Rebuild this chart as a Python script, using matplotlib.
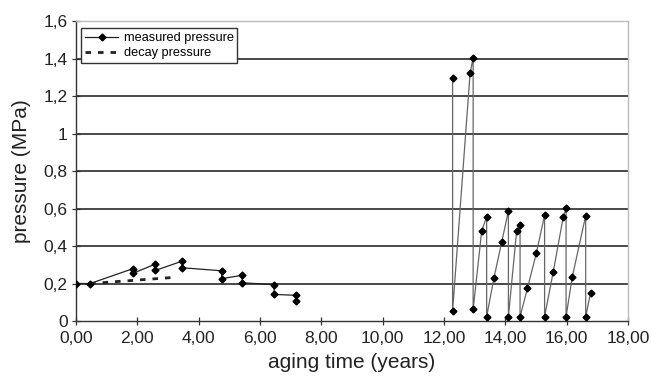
import matplotlib
matplotlib.use("Agg")
import matplotlib.pyplot as plt
import numpy as np

plt.rcParams['font.family'] = ['Liberation Sans', 'DejaVu Sans']

# measured pressure, early period
early_t = [0.00, 0.46, 1.85, 1.85, 2.59, 2.59, 3.47, 3.47, 4.75, 4.75, 5.42, 5.42, 6.46, 6.46, 7.18, 7.18]
early_p = [0.200, 0.200, 0.279, 0.254, 0.304, 0.270, 0.320, 0.284, 0.268, 0.226, 0.244, 0.204, 0.194, 0.142, 0.137, 0.108]

# measured pressure, late period
late_t = [12.28, 12.28, 12.85, 12.95, 12.95, 13.23, 13.39, 13.39, 13.63, 13.88, 14.10, 14.10,
          14.37, 14.48, 14.48, 14.72, 15.01, 15.28, 15.28, 15.56, 15.89, 15.98, 15.98,
          16.18, 16.62, 16.62, 16.78]
late_p = [1.294, 0.053, 1.321, 1.404, 0.062, 0.482, 0.556, 0.023, 0.231, 0.420, 0.587, 0.023,
          0.482, 0.512, 0.023, 0.174, 0.361, 0.565, 0.023, 0.261, 0.556, 0.601, 0.023,
          0.233, 0.562, 0.023, 0.151]

# decay pressure
decay_t = [0.46, 3.30]
decay_p = [0.200, 0.234]

x_ticks = [0, 2, 4, 6, 8, 10, 12, 14, 16, 18]
x_labels = ["0,00", "2,00", "4,00", "6,00", "8,00", "10,00", "12,00", "14,00", "16,00", "18,00"]
y_ticks = [0, 0.2, 0.4, 0.6, 0.8, 1.0, 1.2, 1.4, 1.6]
y_labels = ["0", "0,2", "0,4", "0,6", "0,8", "1", "1,2", "1,4", "1,6"]

fig = plt.figure(figsize=(6.52, 3.77), dpi=100)
ax = fig.add_axes([0.1166, 0.1485, 0.8466, 0.7955])

for y in y_ticks[1:-1]:
    ax.axhline(y, color='#3a3a3a', lw=1.3, zorder=1)

ax.plot(early_t, early_p, color='#222222', lw=0.9, marker='D', ms=3.5,
        mfc='black', mec='black', zorder=3, label='measured pressure')
ax.plot(late_t, late_p, color='#666666', lw=0.9, marker='D', ms=3.5,
        mfc='black', mec='black', zorder=3)
ax.plot(decay_t, decay_p, color='#222222', lw=2.0, ls=(0, (2, 2.5)), zorder=2,
        label='decay pressure')

ax.set_xlim(0, 18)
ax.set_ylim(0, 1.6)
ax.set_xticks(x_ticks)
ax.set_xticklabels(x_labels, fontsize=12.5)
ax.set_yticks(y_ticks)
ax.set_yticklabels(y_labels, fontsize=12.5)
ax.tick_params(direction='inout', length=6, width=0.9, color='#333333',
               labelcolor='#222222')
ax.tick_params(axis='x', pad=4)
ax.tick_params(axis='y', pad=3)

for s in ['left', 'bottom']:
    ax.spines[s].set_color('#333333')
    ax.spines[s].set_linewidth(1.0)
for s in ['top', 'right']:
    ax.spines[s].set_color('#bbbbbb')
    ax.spines[s].set_linewidth(1.0)

ax.set_xlabel('aging time (years)', fontsize=15, color='#222222', labelpad=5.5)
ax.set_ylabel('pressure (MPa)', fontsize=15, color='#222222', labelpad=9)

leg = ax.legend(loc='upper left', bbox_to_anchor=(0.005, 0.985), fontsize=9.2,
                frameon=True, fancybox=False, edgecolor='#333333', framealpha=1,
                handlelength=2.6, borderpad=0.3, labelspacing=0.25, handletextpad=0.4,
                borderaxespad=0.2)
leg.get_frame().set_linewidth(1.0)

fig.savefig('out.png', dpi=100)
